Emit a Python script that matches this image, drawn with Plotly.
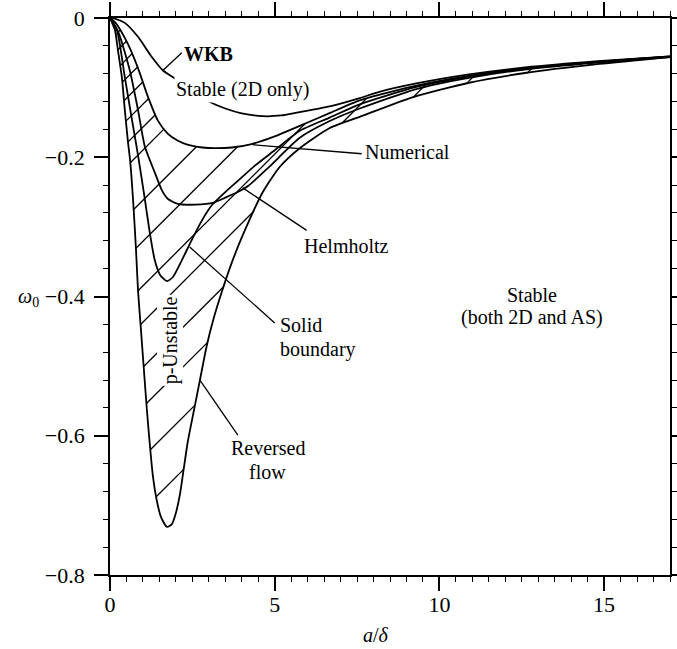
import numpy as np
import plotly.graph_objects as go

# ---- curves (a/delta, omega_0) ----
wkb_x = [0, 0.15, 0.45, 0.85, 1.27, 1.6, 1.97, 2.5, 3.0, 3.5, 4.0, 4.64, 5.2, 5.67, 6.67, 7.58, 8.18, 9.3, 10.9, 12.6, 14.8, 17]
wkb_y = [0, -0.001, -0.007, -0.027, -0.056, -0.075, -0.087, -0.105, -0.12, -0.13, -0.137, -0.141, -0.14, -0.136, -0.127, -0.115, -0.106, -0.094, -0.081, -0.071, -0.062, -0.055]

num_x = [0, 0.15, 0.35, 0.55, 0.85, 1.15, 1.45, 1.75, 2.05, 2.35, 2.8, 3.2, 3.7, 4.3, 5.0, 5.76, 6.7, 7.6, 9.3, 10.9, 12.6, 14.8, 17]
num_y = [0, -0.006, -0.02, -0.038, -0.072, -0.113, -0.147, -0.166, -0.176, -0.182, -0.186, -0.187, -0.186, -0.181, -0.17, -0.155, -0.136, -0.118, -0.097, -0.083, -0.072, -0.063, -0.055]

helm_x = [0, 0.25, 0.6, 0.85, 1.06, 1.36, 1.58, 1.76, 2.06, 2.6, 3.15, 3.5, 3.88, 4.2, 4.85, 5.76, 6.67, 7.58, 9.3, 10.9, 12.6, 14.8, 17]
helm_y = [0, -0.02, -0.075, -0.132, -0.185, -0.222, -0.248, -0.26, -0.267, -0.268, -0.265, -0.258, -0.25, -0.241, -0.213, -0.172, -0.148, -0.13, -0.102, -0.086, -0.074, -0.064, -0.056]

solid_x = [0, 0.21, 0.45, 0.67, 0.85, 1.06, 1.21, 1.36, 1.52, 1.73, 1.91, 2.18, 2.48, 2.8, 3.09, 3.5, 3.88, 4.4, 5.0, 5.76, 6.67, 7.58, 9.3, 10.9, 12.6, 14.8, 17]
solid_y = [0, -0.017, -0.085, -0.147, -0.197, -0.261, -0.309, -0.348, -0.369, -0.378, -0.372, -0.348, -0.319, -0.29, -0.269, -0.25, -0.234, -0.212, -0.19, -0.162, -0.143, -0.124, -0.099, -0.084, -0.073, -0.063, -0.0555]

rev_x = [0, 0.09, 0.15, 0.24, 0.36, 0.45, 0.55, 0.61, 0.70, 0.79, 0.85, 0.94, 1.03, 1.12, 1.21, 1.30, 1.42, 1.55, 1.73, 1.88, 2.0, 2.12, 2.24, 2.36, 2.58, 2.73, 2.94, 3.15, 3.39, 3.70, 4.03, 4.64, 5.15, 5.76, 6.67, 7.58, 9.18, 10.9, 12.6, 14.85, 17]
rev_y = [0, -0.010, -0.017, -0.046, -0.085, -0.132, -0.180, -0.204, -0.261, -0.333, -0.391, -0.448, -0.506, -0.563, -0.613, -0.657, -0.693, -0.717, -0.731, -0.727, -0.711, -0.685, -0.647, -0.609, -0.556, -0.520, -0.470, -0.431, -0.394, -0.351, -0.312, -0.250, -0.214, -0.187, -0.158, -0.142, -0.114, -0.093, -0.079, -0.066, -0.056]

# ---- hatching of the p-unstable region (between Reversed flow and Numerical) ----
hatch_slope = 0.0473
hatch_intercepts = [-0.032, -0.057, -0.083, -0.110, -0.139, -0.171, -0.204, -0.237, -0.309, -0.368, -0.432, -0.484, -0.549, -0.606, -0.678, -0.754]

# ---- leader lines (x0, y0, x1, y1) ----
leader_x0 = [1.61, 4.33, 4.03, 2.42, 2.73]
leader_y0 = [-0.075, -0.182, -0.244, -0.329, -0.520]
leader_x1 = [2.18, 7.64, 5.97, 5.0, 3.88]
leader_y1 = [-0.050, -0.195, -0.305, -0.438, -0.599]

FONT = "Liberation Serif"

fig = go.Figure()

# hatch segments
xs = np.arange(0, 17.0001, 0.0005)
lo = np.interp(xs, rev_x, rev_y)
hi = np.interp(xs, num_x, num_y)
hx, hy = [], []
for b in hatch_intercepts:
    yl = b + hatch_slope * xs
    inside = (yl >= lo) & (yl <= hi)
    idx = np.flatnonzero(inside)
    if idx.size == 0:
        continue
    breaks = np.flatnonzero(np.diff(idx) > 1)
    starts = np.concatenate([[idx[0]], idx[breaks + 1]])
    ends = np.concatenate([idx[breaks], [idx[-1]]])
    for s, e in zip(starts, ends):
        hx += [xs[s], xs[e], None]
        hy += [yl[s], yl[e], None]
fig.add_trace(go.Scatter(x=hx, y=hy, mode="lines", line=dict(color="black", width=1.3), hoverinfo="skip"))

for cx, cy in [(wkb_x, wkb_y), (num_x, num_y), (helm_x, helm_y), (solid_x, solid_y), (rev_x, rev_y)]:
    fig.add_trace(go.Scatter(x=cx, y=cy, mode="lines", hoverinfo="skip",
                             line=dict(color="black", width=1.8, shape="spline", smoothing=0.6)))

lx, ly = [], []
for a, b_, c, d in zip(leader_x0, leader_y0, leader_x1, leader_y1):
    lx += [a, c, None]
    ly += [b_, d, None]
fig.add_trace(go.Scatter(x=lx, y=ly, mode="lines", hoverinfo="skip", line=dict(color="black", width=1.3)))

tf = dict(family=FONT, size=20, color="black")
ann = [
    dict(x=3.0, y=-0.052, text="<b>WKB</b>", xanchor="center"),
    dict(x=4.03, y=-0.103, text="Stable (2D only)", xanchor="center", bgcolor="white"),
    dict(x=7.67, y=-0.193, text="Numerical", xanchor="left"),
    dict(x=5.82, y=-0.328, text="Helmholtz", xanchor="left"),
    dict(x=5.09, y=-0.441, text="Solid", xanchor="left"),
    dict(x=5.09, y=-0.476, text="boundary", xanchor="left"),
    dict(x=4.79, y=-0.618, text="Reversed", xanchor="center"),
    dict(x=4.79, y=-0.652, text="flow", xanchor="center"),
    dict(x=12.8, y=-0.398, text="Stable", xanchor="center"),
    dict(x=12.8, y=-0.43, text="(both 2D and AS)", xanchor="center"),
    dict(x=1.82, y=-0.463, text="p-Unstable", xanchor="center", textangle=-90, bgcolor="white"),
]
for a in ann:
    a.update(showarrow=False, font=tf, yanchor="middle")
    fig.add_annotation(**a)
fig.add_annotation(x=-0.146, y=0.499, xref="paper", yref="paper", text="<i>ω</i><sub>0</sub>",
                   showarrow=False, font=tf, xanchor="center", yanchor="middle")
fig.add_annotation(x=0.475, y=-0.108, xref="paper", yref="paper", text="<i>a</i>/<i>δ</i>",
                   showarrow=False, font=tf, xanchor="center", yanchor="middle")

axis_common = dict(showgrid=False, zeroline=False, showline=True, linecolor="black", linewidth=1.8,
                   mirror="allticks", ticks="outside", ticklen=14, tickwidth=1.5, tickcolor="black",
                   automargin=False, ticklabeloverflow="allow",
                   tickfont=dict(family=FONT, size=22, color="black"))
fig.update_xaxes(range=[0, 17], dtick=5, tick0=0, ticklabelstandoff=-5,
                 minor=dict(dtick=0.5, ticklen=5, tickwidth=1.2, tickcolor="black", ticks="outside"),
                 **axis_common)
fig.update_yaxes(range=[-0.8, 0], dtick=0.2, tick0=0, ticklabelstandoff=5,
                 minor=dict(dtick=0.04, ticklen=5, tickwidth=1.2, tickcolor="black", ticks="outside"),
                 **axis_common)
fig.update_layout(width=677, height=649, margin=dict(l=110, r=7, t=18, b=74),
                  plot_bgcolor="white", paper_bgcolor="white", showlegend=False,
                  hovermode=False,
                  font=dict(family=FONT, color="black"))
# remove the page's default body margin so the figure sits at the window's corner
fig.write_html("out.html", config={"displayModeBar": False},
               post_script="document.body.style.margin='0';")
